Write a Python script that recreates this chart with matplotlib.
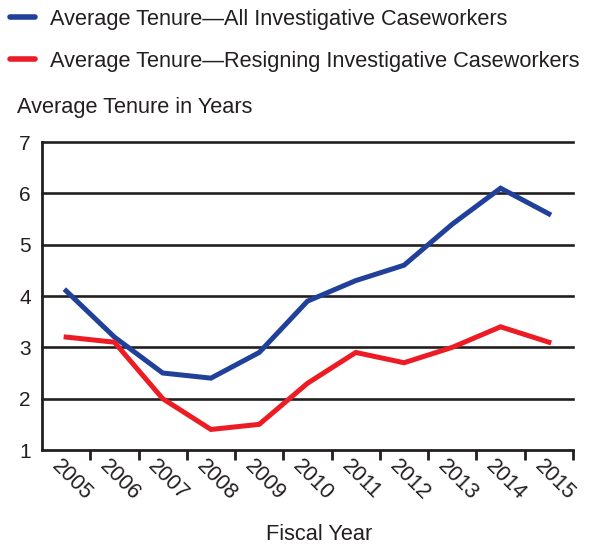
import numpy as np
import matplotlib
matplotlib.use("Agg")
from matplotlib import pyplot as plt
from matplotlib.lines import Line2D
import matplotlib.transforms as mtransforms

# Данные
years = ["2005", "2006", "2007", "2008", "2009", "2010",
         "2011", "2012", "2013", "2014", "2015"]
tenure_all = [4.1, 3.2, 2.5, 2.4, 2.9, 3.9, 4.3, 4.6, 5.4, 6.1, 5.6]
tenure_resigning = [3.2, 3.1, 2.0, 1.4, 1.5, 2.3, 2.9, 2.7, 3.0, 3.4, 3.1]

blue = "#21409a"
red = "#ed1c24"
ink = "#231f20"

plt.rcParams['font.family'] = ['Liberation Sans', 'DejaVu Sans']

fig = plt.figure(figsize=(5.95, 5.47), dpi=100)
ax = fig.add_axes([42/595, 1 - 450/547, (573 - 42)/595, (450 - 142)/547])

x = np.arange(len(years))
ax.plot(x, tenure_all, color=blue, lw=3.6, solid_joinstyle="miter", zorder=3)
ax.plot(x, tenure_resigning, color=red, lw=3.6, solid_joinstyle="miter", zorder=3)

ax.set_xlim(-0.5, len(years) - 0.5)
ax.set_ylim(1, 7)
ax.set_yticks(range(1, 8))
for yv in range(2, 8):
  ax.axhline(yv, color=ink, lw=1.9, zorder=1, clip_on=False)

ax.spines["top"].set_visible(False)
ax.spines["right"].set_visible(False)
for side in ["left", "bottom"]:
  ax.spines[side].set_linewidth(2.0)
  ax.spines[side].set_color(ink)

ax.set_xticks(np.arange(len(years)) + 0.5)
ax.set_xticklabels([])
ax.tick_params(axis="x", which="major", direction="out", length=7, width=2.0, color=ink)
ax.set_xticks(x, minor=True)
ax.set_xticklabels(years, minor=True, rotation=-45, ha="left", va="top",
                   rotation_mode="anchor", fontsize=15.5, color=ink)
ax.tick_params(axis="x", which="minor", length=0, pad=4)
offset = mtransforms.ScaledTranslation(-4/100, 0, fig.dpi_scale_trans)
for lbl in ax.get_xticklabels(minor=True):
  lbl.set_transform(lbl.get_transform() + offset)

ax.tick_params(axis="y", length=0, pad=8, labelsize=15, labelcolor=ink)

fig.text(17/595, 1 - 108/547, "Average Tenure in Years", fontsize=15.7,
         color=ink, va="center", ha="left")
fig.text(319/595, 1 - 535/547, "Fiscal Year", fontsize=15.7,
         color=ink, va="center", ha="center")

handles = [Line2D([], [], color=blue, lw=4.0, solid_capstyle="round"),
           Line2D([], [], color=red, lw=4.0, solid_capstyle="round")]
labels = ["Average Tenure\u2014All Investigative Caseworkers",
          "Average Tenure\u2014Resigning Investigative Caseworkers"]
fig.legend(handles, labels, loc="upper left", bbox_to_anchor=(10/595, 1 - 9/547),
           frameon=False, fontsize=15.7, handlelength=1.15, handletextpad=0.7,
           labelspacing=0.95, borderpad=0, borderaxespad=0, labelcolor=ink)

fig.savefig("out.png", dpi=100)
